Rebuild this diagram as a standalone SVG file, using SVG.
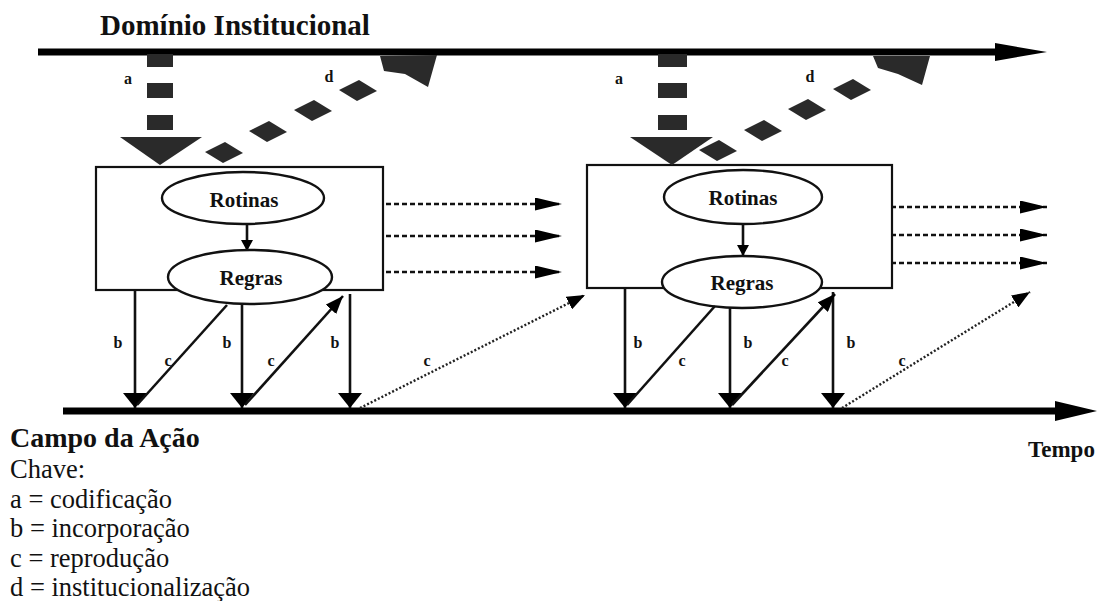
<svg xmlns="http://www.w3.org/2000/svg" width="1099" height="601" viewBox="0 0 1099 601">
<defs>
<style>
.t{font-family:"Liberation Serif","DejaVu Serif","Noto Serif",serif;fill:#111}
.bd{font-weight:bold}
.box{fill:#fff;stroke:#111;stroke-width:2.2}
.ell{fill:#fff;stroke:#111;stroke-width:2.4}
.solid{stroke:#111;stroke-width:2.6;fill:none}
.dash{stroke:#111;stroke-width:2.5;stroke-dasharray:5 3;fill:none}
.dot{stroke:#222;stroke-width:2.4;stroke-dasharray:2 2;fill:none}
.blk{fill:#2a2a2a}
.axis{stroke:#000;stroke-width:7}
.lbl{font-size:16px;font-weight:bold;text-anchor:middle}
.nd{font-size:21px;font-weight:bold;text-anchor:middle}
.lg{font-size:26.5px}
</style>
<marker id="hb" markerUnits="userSpaceOnUse" markerWidth="15" markerHeight="24" refX="15" refY="12" orient="auto" viewBox="0 0 15 24"><path d="M0,0 L15,12 L0,24 z" fill="#000"/></marker>
<marker id="hc" markerUnits="userSpaceOnUse" markerWidth="18" markerHeight="14" refX="18" refY="7" orient="auto" viewBox="0 0 18 14"><path d="M0,0 L18,7 L0,14 z" fill="#000"/></marker>
<marker id="hd" markerUnits="userSpaceOnUse" markerWidth="27" markerHeight="13" refX="27" refY="6.5" orient="auto" viewBox="0 0 27 13"><path d="M0,0 L27,6.5 L0,13 z" fill="#000"/></marker>
<marker id="hs" markerUnits="userSpaceOnUse" markerWidth="11" markerHeight="12" refX="11" refY="6" orient="auto" viewBox="0 0 11 12"><path d="M0,0 L11,6 L0,12 z" fill="#000"/></marker>
</defs>
<rect width="1099" height="601" fill="#fff"/>

<g id="dominio-institucional">
<text class="t bd" x="100" y="35" font-size="29" font-family="Liberation Serif, DejaVu Serif, serif">Domínio Institucional</text>
<line class="axis" x1="38" y1="52" x2="1000" y2="52"/>
<polygon points="995,43 1047,52 995,61" fill="#000"/>
</g>

<g id="campo-da-acao">
<line class="axis" x1="63" y1="411" x2="1060" y2="411"/>
<polygon points="1055,401 1097,411 1055,421" fill="#000"/>
<text class="t bd" x="1028" y="457" font-size="23" font-family="Liberation Serif, DejaVu Serif, serif">Tempo</text>
</g>

<g id="box1">
<rect class="box" x="96" y="167" width="287" height="123"/>
<ellipse class="ell" cx="243" cy="198" rx="81" ry="26"/>
<text class="t nd" x="244" y="207" font-family="Liberation Serif, DejaVu Serif, serif">Rotinas</text>
<line class="solid" x1="247" y1="224" x2="247" y2="251" marker-end="url(#hs)"/>
<ellipse class="ell" cx="250" cy="277" rx="82" ry="27"/>
<text class="t nd" x="251" y="285" font-family="Liberation Serif, DejaVu Serif, serif">Regras</text>
</g>

<g id="box2">
<rect class="box" x="587" y="165" width="305" height="123"/>
<ellipse class="ell" cx="743" cy="197" rx="79" ry="27"/>
<text class="t nd" x="743" y="205" font-family="Liberation Serif, DejaVu Serif, serif">Rotinas</text>
<line class="solid" x1="743" y1="224" x2="743" y2="256" marker-end="url(#hs)"/>
<ellipse class="ell" cx="742" cy="282" rx="80" ry="26"/>
<text class="t nd" x="742" y="290" font-family="Liberation Serif, DejaVu Serif, serif">Regras</text>
</g>

<g id="connectors">
<g class="blk">
<rect x="147" y="54" width="26" height="13"/>
<rect x="147" y="83" width="26" height="15"/>
<rect x="147" y="115" width="26" height="15"/>
<polygon points="120,137 202,137 160,165"/>
<rect x="658" y="54" width="29" height="13"/>
<rect x="658" y="83" width="29" height="15"/>
<rect x="658" y="115" width="29" height="15"/>
<polygon points="630,137 713,137 672,165"/>
<polygon points="-19,0 1,-10 19,1 -1,11" transform="translate(224,152)"/>
<polygon points="-19,0 1,-10 19,1 -1,11" transform="translate(268,131)"/>
<polygon points="-19,0 1,-10 19,1 -1,11" transform="translate(313,110)"/>
<polygon points="-19,0 1,-10 19,1 -1,11" transform="translate(358,90)"/>
<polygon points="380,56 437,55 428,87 405,74 384,71"/>
<polygon points="-19,0 1,-10 19,1 -1,11" transform="translate(718,150)"/>
<polygon points="-19,0 1,-10 19,1 -1,11" transform="translate(763,130)"/>
<polygon points="-19,0 1,-10 19,1 -1,11" transform="translate(807,109)"/>
<polygon points="-19,0 1,-10 19,1 -1,11" transform="translate(852,89)"/>
<polygon points="873,56 930,56 922,85 898,74 878,68"/>
</g>
<g font-family="Liberation Serif, DejaVu Serif, serif">
<text class="t lbl" x="128" y="84">a</text>
<text class="t lbl" x="329" y="82">d</text>
<text class="t lbl" x="619" y="84">a</text>
<text class="t lbl" x="810" y="82">d</text>
</g>

<line class="dash" x1="386" y1="204" x2="562" y2="204" marker-end="url(#hd)"/>
<line class="dash" x1="386" y1="236" x2="562" y2="236" marker-end="url(#hd)"/>
<line class="dash" x1="386" y1="272" x2="562" y2="272" marker-end="url(#hd)"/>
<line class="dash" x1="891" y1="207" x2="1047" y2="207" marker-end="url(#hd)"/>
<line class="dash" x1="891" y1="235" x2="1047" y2="235" marker-end="url(#hd)"/>
<line class="dash" x1="891" y1="263" x2="1047" y2="263" marker-end="url(#hd)"/>

<line class="solid" x1="135" y1="290" x2="135" y2="408" marker-end="url(#hb)"/>
<line class="solid" x1="242" y1="304" x2="242" y2="408" marker-end="url(#hb)"/>
<line class="solid" x1="350" y1="294" x2="350" y2="408" marker-end="url(#hb)"/>
<line class="solid" x1="227" y1="305" x2="137" y2="405"/>
<line class="solid" x1="245" y1="405" x2="343" y2="296" marker-end="url(#hc)"/>
<line class="dot" x1="360" y1="408" x2="585" y2="295" marker-end="url(#hc)"/>

<line class="solid" x1="625" y1="288" x2="625" y2="408" marker-end="url(#hb)"/>
<line class="solid" x1="730" y1="308" x2="730" y2="408" marker-end="url(#hb)"/>
<line class="solid" x1="833" y1="292" x2="833" y2="408" marker-end="url(#hb)"/>
<line class="solid" x1="715" y1="306" x2="627" y2="405"/>
<line class="solid" x1="732" y1="405" x2="835" y2="294" marker-end="url(#hc)"/>
<line class="dot" x1="842" y1="408" x2="1030" y2="292" marker-end="url(#hc)"/>

<g font-family="Liberation Serif, DejaVu Serif, serif">
<text class="t lbl" x="118" y="348">b</text>
<text class="t lbl" x="168" y="366">c</text>
<text class="t lbl" x="227" y="348">b</text>
<text class="t lbl" x="271" y="366">c</text>
<text class="t lbl" x="335" y="348">b</text>
<text class="t lbl" x="427" y="366">c</text>
<text class="t lbl" x="638" y="348">b</text>
<text class="t lbl" x="682" y="366">c</text>
<text class="t lbl" x="748" y="348">b</text>
<text class="t lbl" x="785" y="366">c</text>
<text class="t lbl" x="851" y="348">b</text>
<text class="t lbl" x="902" y="366">c</text>
</g>
</g>

<g id="legend" class="t" font-family="Liberation Serif, DejaVu Serif, serif">
<text class="bd" x="10" y="447" font-size="28">Campo da Ação</text>
<text class="lg" x="10" y="478">Chave:</text>
<text class="lg" x="10" y="507.5">a = codificação</text>
<text class="lg" x="10" y="537">b = incorporação</text>
<text class="lg" x="10" y="566.5">c = reprodução</text>
<text class="lg" x="10" y="596">d = institucionalização</text>
</g>
</svg>
